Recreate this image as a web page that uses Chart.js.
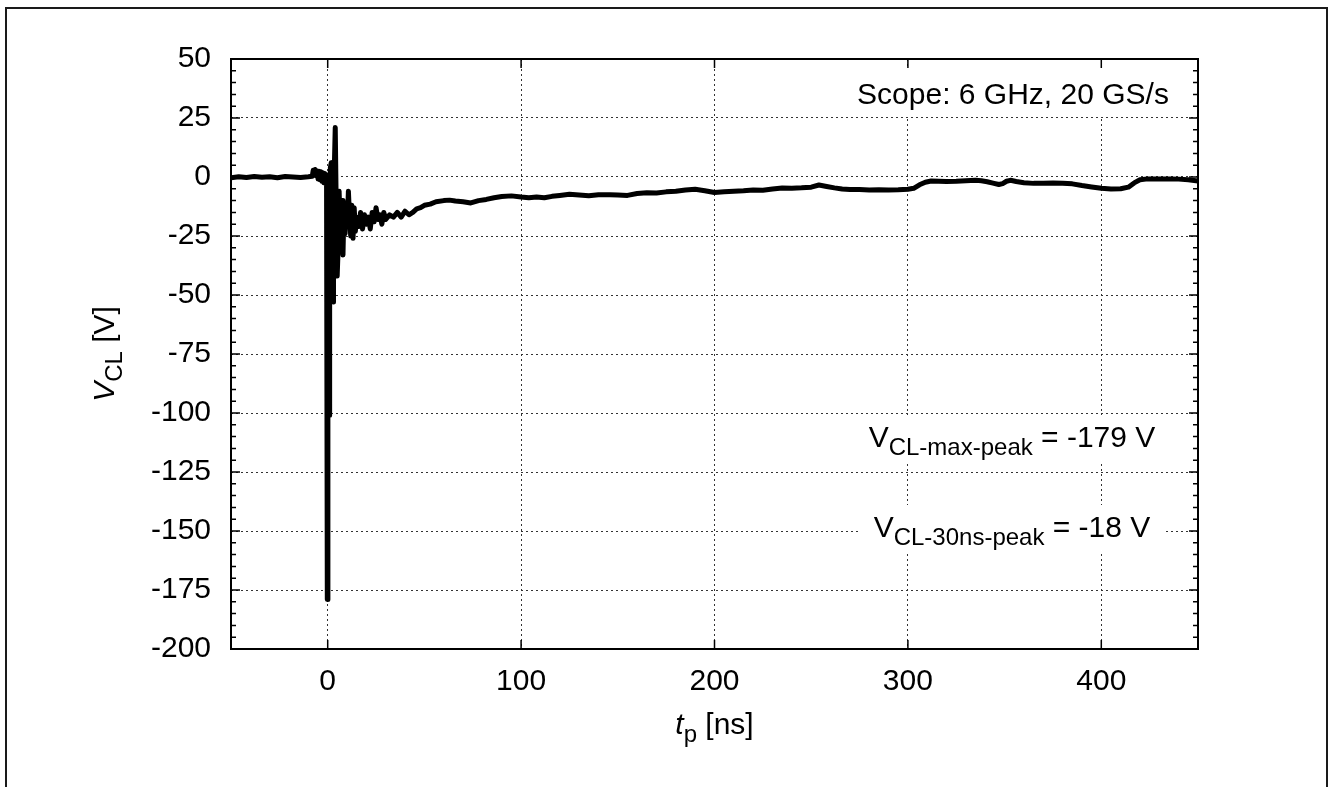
<!DOCTYPE html>
<html>
<head>
<meta charset="utf-8">
<script src="https://cdn.jsdelivr.net/npm/chart.js@4.4.1/dist/chart.umd.min.js"></script>
<style>
  html, body { margin: 0; padding: 0; background: #fff; overflow: hidden; }
  #frame { position: absolute; left: 5px; top: 7px; width: 1319px; height: 800px; border: 2px solid #1a1a1a; border-bottom: none; }
  #chart { position: absolute; left: 0; top: 0; }
</style>
</head>
<body>
<div id="frame"></div>
<canvas id="chart" width="1329" height="787"></canvas>
<script>
// clamp voltage trace
const timeNs = [
  -50, -46, -42, -38, -34, -30, -26, -22, -18, -14, -10, -8,
  -7.5, -7, -6.5, -6, -5.5, -5, -4.5, -4, -3.5, -3, -2.5, -2, -1.5, -1, -0.6,
  -0.2, 0.1, 0.3, 0.5, 0.7, 0.9, 1.1, 1.4, 1.8, 2.2, 2.4, 2.6, 2.8, 3.0, 3.4, 3.9, 4.4, 4.9, 5.4, 5.9,
  6.4, 6.9, 7.4, 7.9, 8.4, 9.0, 9.5, 10.1, 10.7, 11.3, 11.9, 12.5, 13.1, 13.7, 14.3,
  15, 16, 17, 18, 19, 20, 21, 22, 23, 24, 25, 26, 27, 28, 29, 30,
  32, 34, 36, 38, 40, 42, 44, 46, 48, 50, 53, 56, 60, 63, 66, 70, 74, 78,
  82, 86, 90, 95, 100, 104, 108, 112, 116, 120, 125, 130, 135, 140, 146, 150,
  155, 160, 165, 170, 175, 180, 185, 190, 195, 200, 205, 210, 215, 220, 225,
  230, 235, 240, 245, 250, 254, 258, 262, 266, 270, 275, 280, 285, 290, 295,
  300, 303, 306, 309, 312, 316, 320, 325, 330, 335, 338, 341, 344, 347, 349,
  351, 353, 356, 360, 365, 370, 375, 380, 385, 390, 395, 400, 405, 410, 414,
  417, 420, 424, 430, 436, 440, 445, 450
];
const voltageV = [
  -0.3, 0.1, -0.2, 0.2, -0.1, 0.1, -0.3, 0.2, 0, -0.2, 0.1, 0.3,
  2.8, 1.2, 3.2, 0.5, 2.6, -0.8, 2.4, -1.2, 2.2, -1.8, 1.8, -2.4, 1.5, -2.8, 1.0,
  -179, -40, -95, -55, -101, -70, -15, 4, 6, -30, -48, -20, -53, -18, 3, 21, -12, -42, -30, -6,
  -19, -29, -10, -33, -13, -24, -11, -21, -6, -17, -25, -12, -26, -13, -23,
  -17, -21, -15, -22, -16, -20, -17, -22, -15, -19, -13, -18, -16, -20, -15, -18,
  -16, -17, -15, -17, -14.5, -16, -15, -13.5, -13, -12, -11.5, -10.5, -10, -9.8, -10.2, -10.5, -11, -10,
  -9.5, -8.8, -8.3, -8, -8.5, -8.8, -8.5, -8.8, -8.2, -7.8, -7.3, -7.6, -7.9, -7.5, -7.5, -7.6,
  -7.8, -7.0, -6.7, -6.8, -6.3, -6, -5.5, -5.2, -5.8, -6.6, -6.3, -6.0, -5.8, -5.5, -5.6,
  -5.1, -4.7, -4.8, -4.6, -4.3, -3.4, -4, -4.6, -5.1, -5.3, -5.3, -5.5, -5.4, -5.5, -5.4,
  -5.2, -4.8, -3.3, -2.2, -1.7, -1.8, -1.9, -1.8, -1.6, -1.4, -1.6, -2.0, -2.6, -3.2, -2.8,
  -1.8, -1.4, -1.9, -2.4, -2.7, -2.6, -2.5, -2.6, -2.9, -3.6, -4.2, -4.8, -5.1, -5.0, -4.3,
  -2.5, -1.2, -0.8, -0.9, -0.8, -0.9, -1.2, -1.7
];

const xTickValues = [0, 100, 200, 300, 400];
const yTickValues = [-200, -175, -150, -125, -100, -75, -50, -25, 0, 25, 50];
const yMinorStep = 5;

const scopeNote = "Scope: 6 GHz, 20 GS/s";
const peakNotes = [
  { sub: "CL-max-peak", rest: " = -179 V" },
  { sub: "CL-30ns-peak", rest: " = -18 V" }
];

const FAMILY = "'Liberation Sans', Arial, Helvetica, sans-serif";
const mainFont = `30px ${FAMILY}`;
const italicFont = `italic 30px ${FAMILY}`;
const subFont = `24px ${FAMILY}`;

// draws a run of text pieces side by side, returns the total width
const drawRich = (ctx, parts, x, y, draw = true) => {
  let width = 0;
  parts.forEach((p) => {
    ctx.font = p.font;
    width += ctx.measureText(p.text).width;
  });
  if (!draw) return width;
  let cx = x - width / 2;
  parts.forEach((p) => {
    ctx.font = p.font;
    ctx.fillText(p.text, cx, y + (p.dy || 0));
    cx += ctx.measureText(p.text).width;
  });
  return width;
};

const noteParts = (note) => [
  { text: "V", font: mainFont },
  { text: note.sub, font: subFont, dy: 8 },
  { text: note.rest, font: mainFont }
];

const noteBaselines = [447, 537];

const gnuplotLook = {
  id: "gnuplotLook",
  beforeDatasetsDraw(chart) {
    const { ctx } = chart;
    ctx.save();
    ctx.fillStyle = "#fff";
    ctx.font = mainFont;
    const scopeWidth = ctx.measureText(scopeNote).width;
    ctx.fillRect(1013 - scopeWidth / 2 - 10, 69, scopeWidth + 20, 48);
    const widest = Math.max(...peakNotes.map((n) => drawRich(ctx, noteParts(n), 0, 0, false)));
    noteBaselines.forEach((b) => {
      ctx.fillRect(1012 - widest / 2 - 8, b - 32, widest + 16, 48);
    });
    ctx.restore();
  },
  afterDatasetsDraw(chart) {
    const { ctx, chartArea: a } = chart;
    ctx.save();
    ctx.fillStyle = "#000";
    ctx.textBaseline = "alphabetic";
    ctx.font = mainFont;
    ctx.textAlign = "center";
    ctx.fillText(scopeNote, 1013, 104);
    ctx.textAlign = "left";
    peakNotes.forEach((n, i) => drawRich(ctx, noteParts(n), 1012, noteBaselines[i]));

    // axis titles
    drawRich(ctx, [
      { text: "t", font: italicFont },
      { text: "p", font: subFont, dy: 8 },
      { text: " [ns]", font: mainFont }
    ], (a.left + a.right) / 2, 734);

    ctx.translate(114, (a.top + a.bottom) / 2);
    ctx.rotate(-Math.PI / 2);
    drawRich(ctx, [
      { text: "V", font: italicFont },
      { text: "CL", font: subFont, dy: 8 },
      { text: " [V]", font: mainFont }
    ], 0, 0);
    ctx.restore();
  },
  afterDraw(chart) {
    const { ctx, chartArea: a, scales } = chart;
    ctx.save();
    ctx.strokeStyle = "#000";
    ctx.lineWidth = 1.5;
    ctx.beginPath();
    xTickValues.forEach((v) => {
      const px = scales.x.getPixelForValue(v);
      ctx.moveTo(px, a.bottom);
      ctx.lineTo(px, a.bottom - 9);
      ctx.moveTo(px, a.top);
      ctx.lineTo(px, a.top + 9);
    });
    const yMin = yTickValues[0];
    const yMax = yTickValues[yTickValues.length - 1];
    for (let v = yMin; v <= yMax; v += yMinorStep) {
      const py = scales.y.getPixelForValue(v);
      const len = yTickValues.includes(v) ? 9 : 5;
      ctx.moveTo(a.left, py);
      ctx.lineTo(a.left + len, py);
      ctx.moveTo(a.right, py);
      ctx.lineTo(a.right - len, py);
    }
    ctx.stroke();
    ctx.lineWidth = 2;
    ctx.strokeRect(a.left, a.top, a.right - a.left, a.bottom - a.top);
    ctx.restore();
  }
};

const gridStyle = { color: "#333", lineWidth: 1, drawTicks: false, tickLength: 0 };

const chart = new Chart(document.getElementById("chart"), {
  type: "scatter",
  data: {
    datasets: [
      {
        data: timeNs.map((t, i) => ({ x: t, y: voltageV[i] })),
        showLine: true,
        borderColor: "#000",
        backgroundColor: "#000",
        borderWidth: 5,
        borderJoinStyle: "round",
        borderCapStyle: "round",
        pointRadius: 0,
        tension: 0
      }
    ]
  },
  options: {
    responsive: false,
    animation: false,
    layout: { padding: { left: 0, top: 59, right: 131, bottom: 0 } },
    plugins: { legend: { display: false }, tooltip: { enabled: false } },
    scales: {
      x: {
        type: "linear",
        min: -50,
        max: 450,
        afterBuildTicks: (scale) => {
          scale.ticks = xTickValues.map((value) => ({ value }));
        },
        afterFit: (scale) => {
          scale.height = 138;
        },
        grid: gridStyle,
        border: { display: false, dash: [2, 3] },
        ticks: { color: "#000", font: { family: FAMILY, size: 30 }, padding: 15, maxRotation: 0, autoSkip: false }
      },
      y: {
        type: "linear",
        min: -200,
        max: 50,
        afterBuildTicks: (scale) => {
          scale.ticks = yTickValues.map((value) => ({ value }));
        },
        afterFit: (scale) => {
          scale.width = 231;
        },
        grid: gridStyle,
        border: { display: false, dash: [2, 3] },
        ticks: { color: "#000", font: { family: FAMILY, size: 30 }, padding: 20, autoSkip: false }
      }
    }
  },
  plugins: [gnuplotLook]
});
</script>
</body>
</html>
